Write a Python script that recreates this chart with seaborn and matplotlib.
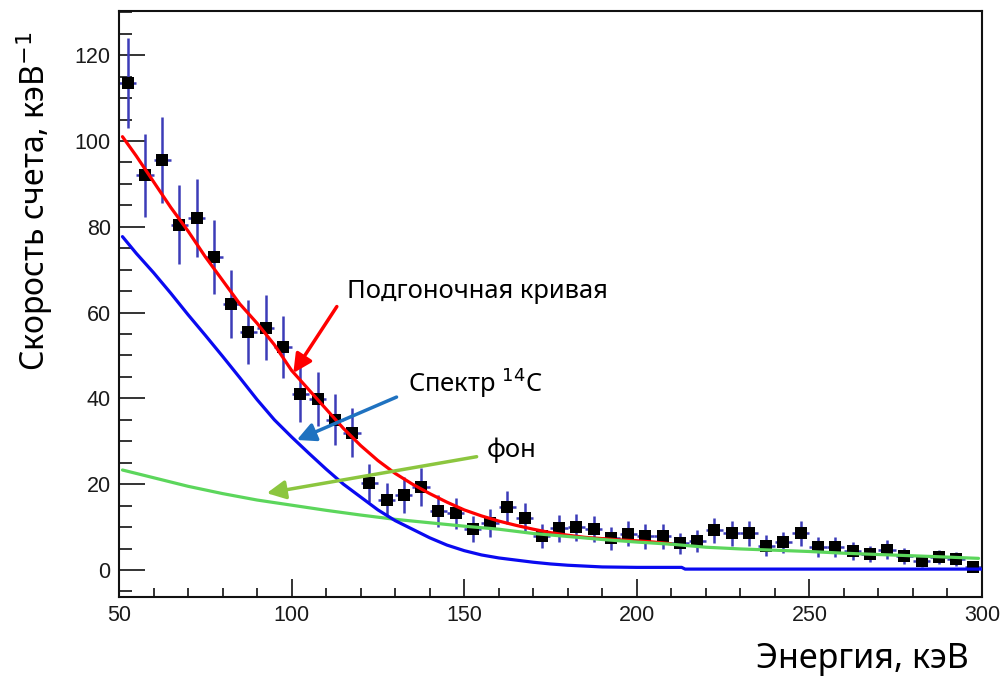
import numpy as np
import pandas as pd
import matplotlib
matplotlib.use('Agg')
import matplotlib.pyplot as plt
import seaborn as sns
from matplotlib.ticker import MultipleLocator

# Measured spectrum (5 keV bins)
energy = [52.5, 57.5, 62.5, 67.5, 72.5, 77.5, 82.5, 87.5, 92.5, 97.5,
          102.5, 107.5, 112.5, 117.5, 122.5, 127.5, 132.5, 137.5, 142.5, 147.5,
          152.5, 157.5, 162.5, 167.5, 172.5, 177.5, 182.5, 187.5, 192.5, 197.5,
          202.5, 207.5, 212.5, 217.5, 222.5, 227.5, 232.5, 237.5, 242.5, 247.5,
          252.5, 257.5, 262.5, 267.5, 272.5, 277.5, 282.5, 287.5, 292.5, 297.5]
rate = [113.5, 92.0, 95.5, 80.5, 82.0, 73.0, 62.0, 55.5, 56.5, 52.0,
        41.0, 39.8, 35.0, 32.0, 20.3, 16.3, 17.5, 19.4, 13.8, 13.2,
        9.5, 11.0, 14.6, 12.0, 7.9, 9.7, 9.9, 9.5, 7.4, 8.4,
        7.8, 7.8, 6.2, 6.8, 9.2, 8.5, 8.5, 5.7, 6.4, 8.5,
        5.3, 5.3, 4.5, 3.7, 4.7, 3.3, 2.1, 3.0, 2.6, 0.7]
rate_err = [10.5, 9.7, 10.0, 9.2, 9.1, 8.6, 7.9, 7.5, 7.5, 7.2,
            6.4, 6.3, 5.9, 5.7, 4.5, 4.0, 4.2, 4.4, 3.7, 3.6,
            3.1, 3.3, 3.8, 3.5, 2.8, 3.1, 3.1, 3.1, 2.7, 2.9,
            2.8, 2.8, 2.5, 2.6, 3.0, 2.9, 2.9, 2.4, 2.5, 2.9,
            2.3, 2.3, 2.1, 1.9, 2.2, 1.8, 1.4, 1.7, 1.6, 0.8]
bin_half = 2.5

# Fit curve
fit_x = [51, 55, 60, 65, 70, 75, 80, 85, 90, 95, 100, 105, 110, 115, 120, 125,
         130, 135, 140, 145, 150, 155, 160, 165, 170, 175, 180, 185, 190, 195,
         200, 205, 210]
fit_y = [101.0, 96.5, 90.5, 84.5, 79.0, 73.0, 67.5, 62.0, 57.5, 52.5, 46.5, 42.0,
         37.5, 33.0, 29.0, 25.5, 22.5, 20.0, 17.8, 15.8, 14.0, 12.6, 11.4, 10.4,
         9.5, 8.7, 8.1, 7.6, 7.3, 7.0, 6.8, 6.5, 6.1]

# 14C spectrum component
c14_x = [51, 55, 60, 65, 70, 75, 80, 85, 90, 95, 100, 105, 110, 115, 120, 125,
         130, 135, 140, 145, 150, 155, 160, 165, 170, 175, 180, 185, 190, 200,
         213, 214, 300]
c14_y = [77.7, 73.8, 69.3, 64.5, 59.5, 54.7, 49.8, 44.8, 39.7, 35.0, 31.0, 27.2,
         23.5, 20.0, 17.0, 14.0, 11.5, 9.5, 7.5, 5.8, 4.5, 3.5, 2.8, 2.3, 1.8,
         1.4, 1.1, 0.9, 0.7, 0.6, 0.6, 0.2, 0.2]

# background component
bg_x = [51, 60, 70, 80, 90, 100, 110, 120, 130, 140, 150, 160, 170, 180, 190,
        200, 210, 220, 230, 240, 250, 260, 270, 280, 290, 299]
bg_y = [23.3, 21.5, 19.5, 17.8, 16.3, 15.1, 13.9, 12.8, 11.8, 11.0, 10.2, 9.5,
        8.5, 7.8, 7.1, 6.5, 6.0, 5.3, 4.9, 4.6, 4.3, 3.9, 3.6, 3.3, 3.0, 2.7]

sns.set_theme(style="ticks")
plt.rcParams['font.family'] = ['Noto Sans', 'DejaVu Sans']
plt.rcParams['text.color'] = 'black'
plt.rcParams['axes.labelcolor'] = 'black'

fig = plt.figure(figsize=(10.01, 6.78), dpi=100)
ax = fig.add_axes([0.1189, 0.1195, 0.8621, 0.8643])

spec = pd.DataFrame({'E': energy, 'rate': rate, 'err': rate_err})
ax.errorbar(spec['E'], spec['rate'], yerr=spec['err'], xerr=bin_half,
            fmt='none', ecolor='#3c3cb8', elinewidth=1.8, capsize=0, zorder=2)
sns.scatterplot(data=spec, x='E', y='rate', marker='s', s=70, color='black',
                linewidth=0, ax=ax, zorder=3)

sns.lineplot(x=fit_x, y=fit_y, color='#ff0000', lw=2.3, ax=ax, zorder=4,
             sort=False)
sns.lineplot(x=bg_x, y=bg_y, color='#5cd65c', lw=2.3, ax=ax, zorder=5,
             sort=False)
sns.lineplot(x=c14_x, y=c14_y, color='#0a0af0', lw=2.3, ax=ax, zorder=6,
             sort=False)

ax.set_xlim(50, 300)
ax.set_ylim(-6.3, 130.3)

# annotations with arrows
arrow_kw = dict(arrowstyle='-|>', mutation_scale=28, lw=2.5, shrinkA=0, shrinkB=0)
ax.annotate('', xy=(100.5, 45.9), xytext=(113.1, 61.4),
            arrowprops=dict(color='#ff0000', **arrow_kw), zorder=7)
ax.annotate('', xy=(101.5, 30.3), xytext=(130.4, 40.3),
            arrowprops=dict(color='#1f72c0', **arrow_kw), zorder=7)
ax.annotate('', xy=(92.8, 17.9), xytext=(153.6, 26.4),
            arrowprops=dict(color='#8cc63f', **arrow_kw), zorder=7)

ax.text(116, 64.9, 'Подгоночная кривая', fontsize=18.4, va='center', ha='left')
ax.text(133.7, 43.6, 'Спектр $^{14}$C', fontsize=18.4, va='center', ha='left')
ax.text(156.5, 28.0, 'фон', fontsize=18.4, va='center', ha='left')

# ticks in ROOT style
ax.xaxis.set_major_locator(MultipleLocator(50))
ax.xaxis.set_minor_locator(MultipleLocator(10))
ax.yaxis.set_major_locator(MultipleLocator(20))
ax.yaxis.set_minor_locator(MultipleLocator(5))
ax.tick_params(axis='x', which='major', direction='in', length=13, width=1.2,
               pad=6, labelsize=15.5, labelcolor='#1a1a1a', color='#111111')
ax.tick_params(axis='x', which='minor', direction='in', length=6.5, width=1.2,
               color='#111111')
ax.tick_params(axis='y', which='major', direction='in', length=19, width=1.2,
               pad=6, labelsize=15.5, labelcolor='#1a1a1a', color='#111111')
ax.tick_params(axis='y', which='minor', direction='in', length=9.5, width=1.2,
               color='#111111')
for lab in ax.get_xticklabels() + ax.get_yticklabels():
    lab.set_fontfamily(['Liberation Sans', 'DejaVu Sans'])

for side in ['top', 'right', 'bottom', 'left']:
    ax.spines[side].set_visible(True)
    ax.spines[side].set_color('#111111')
    ax.spines[side].set_linewidth(1.5)

ax.set_xlabel('Энергия, кэВ', fontsize=24.5, loc='right')
ax.xaxis.set_label_coords(0.985, -0.077)
ax.set_ylabel('Скорость счета, кэВ$^{-1}$', fontsize=23, loc='top')
ax.yaxis.set_label_coords(-0.074, 0.965)

fig.savefig('out.png', dpi=100)
